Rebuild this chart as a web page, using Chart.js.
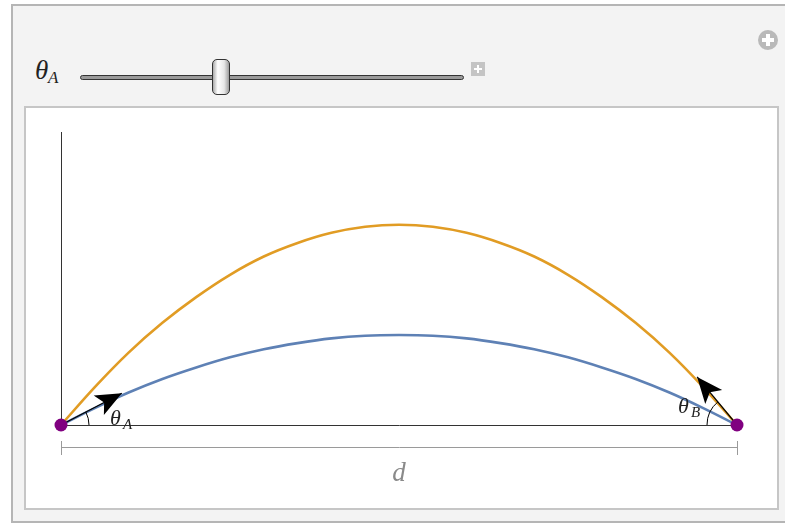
<!DOCTYPE html>
<html>
<head>
<meta charset="utf-8">
<script src="https://cdn.jsdelivr.net/npm/chart.js@4"></script>
<style>
  body { margin: 0; background: #fff; width: 785px; height: 523px; overflow: hidden; position: relative; }
  #frame { position: absolute; left: 11px; top: 4px; width: 790px; height: 515px; background: #f3f3f3; border: 2px solid #b5b5b5; }
  #panel { position: absolute; left: 24px; top: 106px; width: 751px; height: 400px; background: #fff; border: 2px solid #c6c6c6; }
  #chartBox { position: absolute; left: 26px; top: 108px; width: 751px; height: 400px; }
  .lbl { position: absolute; font-family: "Liberation Serif", serif; font-style: italic; color: #222; line-height: 1; }
  #track { position: absolute; left: 80px; top: 75px; width: 382px; height: 3px; background: #9a9a9a; border: 1px solid #333; border-radius: 3px; }
  #thumb { position: absolute; left: 212px; top: 59px; width: 16px; height: 34px; border: 1px solid #333; border-radius: 5px;
           background: linear-gradient(to right, #aaa, #fff 30%, #e6e6e6 70%, #9c9c9c); }
  #plusSq { position: absolute; left: 471px; top: 62px; width: 14px; height: 14px; background: #c4c4c4; }
  #plusSq:before { content: ""; position: absolute; left: 6px; top: 3px; width: 2px; height: 8px; background: #fff; }
  #plusSq:after { content: ""; position: absolute; left: 3px; top: 6px; width: 8px; height: 2px; background: #fff; }
  #plusCirc { position: absolute; left: 758px; top: 30px; width: 20px; height: 20px; border-radius: 50%; background: #b9b9b9; }
  #plusCirc:before { content: ""; position: absolute; left: 8px; top: 4px; width: 4px; height: 12px; background: #fff; }
  #plusCirc:after { content: ""; position: absolute; left: 4px; top: 8px; width: 12px; height: 4px; background: #fff; }
</style>
</head>
<body>
<div id="frame"></div>
<div class="lbl" style="left:35px; top:57px; font-size:27px;">θ</div>
<div class="lbl" style="left:48px; top:69px; font-size:17px;">A</div>
<div id="track"></div>
<div id="thumb"></div>
<div id="plusSq"></div>
<div id="plusCirc"></div>
<div id="panel"></div>
<div id="chartBox"><canvas id="myChart" width="751" height="400"></canvas></div>
<script>
const xs = [0, 0.5, 1, 1.5, 2, 2.5, 3, 3.5, 4, 4.5, 5, 5.5, 6, 6.5, 7, 7.5, 8, 8.5, 9, 9.5, 10];
const orangeY = [0, 0.56, 1.07, 1.51, 1.89, 2.22, 2.49, 2.69, 2.84, 2.93, 2.96, 2.93, 2.84, 2.69, 2.49, 2.22, 1.89, 1.51, 1.07, 0.56, 0];
const blueY = [0, 0.25, 0.48, 0.68, 0.85, 1.0, 1.12, 1.21, 1.28, 1.32, 1.33, 1.32, 1.28, 1.21, 1.12, 1.0, 0.85, 0.68, 0.48, 0.25, 0];
const endPoints = [[0, 0], [10, 0]];
const arrowA = [[0, 0], [0.9, 0.47]];
const arrowB = [[10, 0], [9.41, 0.71]];
const labels = ['θ', 'A', 'B', 'd'];

const toXY = arr => arr.map(p => ({ x: p[0], y: p[1] }));

// Pijlpunten, hoekboogjes en maatlijn
const decorations = {
  id: 'decorations',
  afterDatasetsDraw(chart) {
    const { ctx, scales: { x, y } } = chart;
    const head = (pts) => {
      const x0 = x.getPixelForValue(pts[0][0]), y0 = y.getPixelForValue(pts[0][1]);
      const x1 = x.getPixelForValue(pts[1][0]), y1 = y.getPixelForValue(pts[1][1]);
      const a = Math.atan2(y1 - y0, x1 - x0);
      ctx.save();
      ctx.translate(x1, y1);
      ctx.rotate(a);
      ctx.beginPath();
      ctx.moveTo(0, 0);
      ctx.lineTo(-26, -11);
      ctx.lineTo(-20, 0);
      ctx.lineTo(-26, 11);
      ctx.closePath();
      ctx.fillStyle = '#000';
      ctx.fill();
      ctx.restore();
    };
    head(arrowA);
    head(arrowB);

    const ax = x.getPixelForValue(0), bx = x.getPixelForValue(10), by = y.getPixelForValue(0);
    const ux = x.getPixelForValue(1) - ax, uy = y.getPixelForValue(0) - y.getPixelForValue(1);
    const angA = Math.atan2(arrowA[1][1] * uy, arrowA[1][0] * ux);
    const angB = Math.atan2(arrowB[1][1] * uy, (10 - arrowB[1][0]) * ux);
    ctx.save();
    ctx.strokeStyle = '#000';
    ctx.lineWidth = 1;
    ctx.beginPath();
    ctx.arc(ax, by, 28, -angA, 0);
    ctx.stroke();
    ctx.beginPath();
    ctx.arc(bx, by, 30, Math.PI, Math.PI + angB);
    ctx.stroke();

    // theta labels
    ctx.fillStyle = '#222';
    ctx.textBaseline = 'alphabetic';
    ctx.font = 'italic 22px "Liberation Serif"';
    ctx.fillText(labels[0], ax + 49, by);
    ctx.fillText(labels[0], bx - 59, by - 12);
    ctx.font = 'italic 15px "Liberation Serif"';
    ctx.fillText(labels[1], ax + 62, by + 4);
    ctx.fillText(labels[2], bx - 46, by - 8);

    // maatlijn d
    const dy = by + 22;
    ctx.strokeStyle = '#9a9a9a';
    ctx.beginPath();
    ctx.moveTo(ax + 0.5, dy + 0.5); ctx.lineTo(bx + 0.5, dy + 0.5);
    ctx.moveTo(ax + 0.5, dy - 6); ctx.lineTo(ax + 0.5, dy + 8);
    ctx.moveTo(bx + 0.5, dy - 6); ctx.lineTo(bx + 0.5, dy + 8);
    ctx.stroke();
    ctx.fillStyle = '#8a8a8a';
    ctx.font = 'italic 27px "Liberation Serif"';
    ctx.textAlign = 'center';
    ctx.fillText(labels[3], (ax + bx) / 2, dy + 34);
    ctx.restore();
  }
};

const ctx = document.getElementById('myChart').getContext('2d');
new Chart(ctx, {
  type: 'line',
  data: {
    datasets: [
      { data: toXY(endPoints), showLine: false, pointRadius: 6.5, pointBackgroundColor: '#800080', pointBorderWidth: 0, clip: false },
      { data: toXY(arrowA), borderColor: '#000', borderWidth: 1.2, pointRadius: 0, clip: false },
      { data: toXY(arrowB), borderColor: '#000', borderWidth: 1.2, pointRadius: 0, clip: false },
      { data: xs.map((v, i) => ({ x: v, y: blueY[i] })), borderColor: '#5e81b5', borderWidth: 2.6, pointRadius: 0, tension: 0.4, cubicInterpolationMode: 'monotone' },
      { data: xs.map((v, i) => ({ x: v, y: orangeY[i] })), borderColor: '#e19c24', borderWidth: 2.6, pointRadius: 0, tension: 0.4, cubicInterpolationMode: 'monotone' }
    ]
  },
  options: {
    responsive: false,
    animation: false,
    layout: { padding: { left: 35, top: 24, right: 40, bottom: 83 } },
    plugins: { legend: { display: false }, tooltip: { enabled: false } },
    scales: {
      x: {
        type: 'linear', min: 0, max: 10,
        ticks: { display: false }, grid: { display: false },
        border: { display: true, color: '#333', width: 1 },
        afterFit(s) { s.height = 0; }
      },
      y: {
        min: 0, max: 4.33,
        ticks: { display: false }, grid: { display: false },
        border: { display: true, color: '#333', width: 1 },
        afterFit(s) { s.width = 0; }
      }
    }
  },
  plugins: [decorations]
});
</script>
</body>
</html>
